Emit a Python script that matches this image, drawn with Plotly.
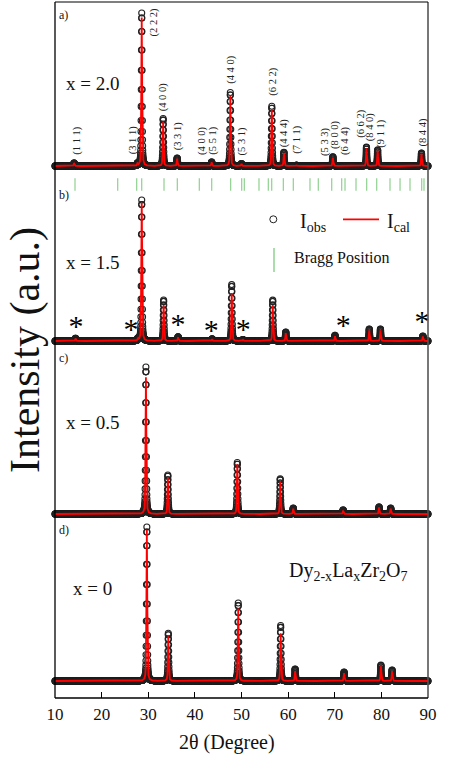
import numpy as np
import plotly.graph_objects as go

# ---------------- data ----------------
theta_start, theta_end, theta_step = 10.0, 90.0, 0.02

# panel a) x = 2.0
peaks_a_pos = [14.1, 27.7, 28.6, 33.2, 36.2, 43.6, 47.6, 50.0, 56.5, 59.1, 61.8, 69.6, 76.8, 79.2, 88.6]
peaks_a_obs = [2.0, 1.5, 100, 31, 5.2, 2.6, 48, 1.5, 39, 9.0, 0.5, 6.0, 12.4, 10.5, 8.5]
peaks_a_cal = [2.0, 1.4, 97, 29, 4.8, 2.4, 46, 1.3, 37, 8.5, 0.5, 5.5, 11.6, 10.0, 8.0]

# panel b) x = 1.5
peaks_b_pos = [14.4, 27.8, 28.6, 33.3, 36.4, 43.7, 47.9, 50.3, 56.7, 59.5, 70.05, 77.4, 79.8, 88.9]
peaks_b_obs = [2.0, 1.5, 100, 29, 3.0, 1.5, 40, 1.0, 29, 6.4, 4.0, 8.5, 8.5, 3.5]
peaks_b_cal = [1.8, 1.3, 98, 25.5, 2.7, 1.3, 34, 0.9, 25.5, 5.5, 3.5, 7.5, 7.5, 3.2]

# panel c) x = 0.5
peaks_c_pos = [29.5, 34.2, 49.1, 58.3, 61.1, 71.8, 79.5, 82.0]
peaks_c_obs = [100, 26.5, 35, 24, 4.0, 2.7, 4.8, 4.0]
peaks_c_cal = [93, 25, 34, 22, 3.6, 2.4, 4.4, 3.6]

# panel d) x = 0
peaks_d_pos = [29.7, 34.3, 49.3, 58.4, 61.5, 72.0, 79.9, 82.3]
peaks_d_obs = [100, 31, 50.6, 36, 7.8, 5.8, 10.4, 7.1]
peaks_d_cal = [98, 29, 47, 31, 6.5, 5.2, 9.5, 6.5]

# Miller index labels of panel a)
hkl_text = ["(1 1 1)", "(3 1 1)", "(2 2 2)", "(4 0 0)", "(3 3 1)", "(4 0 0)", "(5 5 1)",
            "(4 4 0)", "(5 3 1)", "(6 2 2)", "(4 4 4)", "(7 1 1)", "(5 3 3)", "(8 0 0)",
            "(6 4 4)", "(6 6 2)", "(8 4 0)", "(9 1 1)", "(8 4 4)"]
hkl_x = [14.65, 26.8, 31.3, 33.2, 36.45, 41.5, 43.8, 47.7, 50.0, 56.7, 59.2, 61.85,
         67.9, 70.05, 72.2, 75.6, 77.6, 79.85, 88.85]
hkl_y = [16.3, 17.0, 94.0, 45.0, 19.6, 16.3, 16.3, 62.7, 15.7, 54.9, 21.6, 17.0,
         15.7, 20.3, 16.3, 27.5, 25.5, 20.9, 21.6]

# Bragg positions (green ticks, panel b)
bragg_pos = [14.29, 23.45, 27.52, 28.60, 33.38, 36.23, 40.95, 43.61, 47.68, 50.04, 50.60,
             53.75, 55.75, 56.48, 58.97, 61.11, 64.69, 66.47, 69.35, 71.49, 72.20, 74.56,
             76.85, 79.00, 81.85, 84.00, 86.14, 88.65, 89.14]

# impurity asterisks (panel b)
star_pos = [14.5, 26.3, 36.4, 43.5, 50.4, 71.8, 88.7]
star_y = [12.8, 11.3, 14.2, 10.6, 11.3, 13.5, 17.0]

panel_tags = ["a)", "b)", "c)", "d)"]
comp_text = ["x = 2.0", "x = 1.5", "x = 0.5", "x = 0"]
x_ticks = [10, 20, 30, 40, 50, 60, 70, 80, 90]

# ---------------- layout geometry (pixels) ----------------
W, H = 463, 763
L, R, T, B = 55, 428, 2, 698
panel_top = [2, 170, 345, 517]
panel_bot = [170, 345, 517, 698]
panel_base = [166, 341, 514, 681]
panel_peak = [13, 200, 367, 527]    # pixel row of intensity 100
tag_y = [15, 195, 358, 530]
comp_y = [83, 262, 422, 588]

PH = B - T
serif = "Liberation Serif, Times New Roman, serif"
GREEN = "#8fd08f"


def paper_y(px):
    return (B - px) / PH


def pv(x, pos, amp, fwhm=0.2, eta=0.5):
    y = np.zeros_like(x)
    for p, a in zip(pos, amp):
        d = (x - p) / (fwhm / 2)
        y += a * (eta / (1 + d ** 2) + (1 - eta) * np.exp(-np.log(2) * d ** 2))
    return y


def xd(px):
    return 10 + (px - L) / (R - L) * 80


tt = np.arange(theta_start, theta_end + theta_step / 2, theta_step)
panels = [
    (peaks_a_pos, peaks_a_obs, peaks_a_cal),
    (peaks_b_pos, peaks_b_obs, peaks_b_cal),
    (peaks_c_pos, peaks_c_obs, peaks_c_cal),
    (peaks_d_pos, peaks_d_obs, peaks_d_cal),
]

fig = go.Figure()
layout_axes = {}
annotations = []

for i, (pos, obs, cal) in enumerate(panels):
    yname = "y" if i == 0 else f"y{i+1}"
    lname = "yaxis" if i == 0 else f"yaxis{i+1}"
    s = (panel_base[i] - panel_peak[i]) / 100.0
    rng = [-(panel_bot[i] - panel_base[i]) / s, (panel_base[i] - panel_top[i]) / s]
    layout_axes[lname] = dict(domain=[paper_y(panel_bot[i]), paper_y(panel_top[i])],
                              range=rng, showticklabels=False, ticks="", showgrid=False,
                              zeroline=False, showline=False, fixedrange=True)
    fig.add_trace(go.Scatter(x=tt, y=pv(tt, pos, obs), mode="markers", yaxis=yname,
                             marker=dict(symbol="circle-open", size=6, color="#222",
                                         line=dict(width=1.1)),
                             cliponaxis=False, showlegend=False))
    fig.add_trace(go.Scatter(x=tt, y=pv(tt, pos, cal), mode="lines", yaxis=yname,
                             line=dict(color="#ff0000", width=1.8),
                             cliponaxis=False, showlegend=False))
    annotations.append(dict(x=10.5, y=paper_y(tag_y[i]), xref="x", yref="paper",
                            text=panel_tags[i], showarrow=False, xanchor="left",
                            yanchor="middle", font=dict(family=serif, size=12, color="#111")))
    annotations.append(dict(x=xd(92), y=paper_y(comp_y[i]), xref="x",
                            yref="paper", text=comp_text[i], showarrow=False,
                            xanchor="center", yanchor="middle",
                            font=dict(family=serif, size=19, color="#111")))

# Miller labels
for t, xx, yy in zip(hkl_text, hkl_x, hkl_y):
    annotations.append(dict(x=xx, y=yy, xref="x", yref="y", text=t, showarrow=False,
                            textangle=-90, xanchor="center", yanchor="middle",
                            font=dict(family=serif, size=10.5, color="#222")))

sb = (panel_base[1] - panel_peak[1]) / 100.0


def yb(px):
    return (panel_base[1] - px) / sb


# Bragg ticks
fig.add_trace(go.Scatter(x=bragg_pos, y=[yb(184.5)] * len(bragg_pos), mode="markers",
                         yaxis="y2", cliponaxis=False, showlegend=False,
                         marker=dict(symbol="line-ns-open", size=9, color=GREEN,
                                     line=dict(color=GREEN, width=1.2))))
# asterisks (glyph sits high in its text box: shift it down a few pixels)
star_glyph_shift = 6 / sb
fig.add_trace(go.Scatter(x=star_pos, y=[v - star_glyph_shift for v in star_y], mode="text",
                         text=["*"] * len(star_pos),
                         yaxis="y2", cliponaxis=False, showlegend=False,
                         textfont=dict(family=serif, size=30, color="#000"),
                         textposition="middle center"))

# legend inside panel b
fig.add_trace(go.Scatter(x=[xd(273.3)], y=[yb(219.3)], mode="markers", yaxis="y2",
                         marker=dict(symbol="circle-open", size=7, color="#222",
                                     line=dict(width=1)), showlegend=False))
fig.add_trace(go.Scatter(x=[xd(343), xd(379)], y=[yb(219.3), yb(219.3)], mode="lines",
                         yaxis="y2", line=dict(color="#ff0000", width=1.8), showlegend=False))
fig.add_trace(go.Scatter(x=[xd(274)], y=[yb(260)], mode="markers", yaxis="y2",
                         marker=dict(symbol="line-ns-open", size=17, color=GREEN,
                                     line=dict(color=GREEN, width=1.5)), showlegend=False))
annotations.append(dict(x=xd(298), y=yb(222), xref="x", yref="y2",
                        text="I<sub>obs</sub>", showarrow=False, xanchor="left",
                        yanchor="middle", font=dict(family=serif, size=20, color="#111")))
annotations.append(dict(x=xd(385), y=yb(222), xref="x", yref="y2",
                        text="I<sub>cal</sub>", showarrow=False, xanchor="left",
                        yanchor="middle", font=dict(family=serif, size=20, color="#111")))
annotations.append(dict(x=xd(292), y=yb(258), xref="x", yref="y2",
                        text="Bragg Position", showarrow=False, xanchor="left",
                        yanchor="middle", font=dict(family=serif, size=16, color="#111")))

# compound formula in panel d
annotations.append(dict(x=xd(348), y=paper_y(571), xref="x", yref="paper",
                        text="Dy<sub>2-x</sub>La<sub>x</sub>Zr<sub>2</sub>O<sub>7</sub>",
                        showarrow=False, xanchor="center", yanchor="middle",
                        font=dict(family=serif, size=20, color="#111")))

# axis titles
annotations.append(dict(x=(226.5 - L) / (R - L), y=paper_y(742), xref="paper", yref="paper",
                        text="2θ (Degree)", showarrow=False, xanchor="center",
                        yanchor="middle", font=dict(family=serif, size=20, color="#111")))
annotations.append(dict(x=(25 - L) / (R - L), y=paper_y(350), xref="paper", yref="paper",
                        text="Intensity (a.u.)", showarrow=False, textangle=-90,
                        xanchor="center", yanchor="middle", borderpad=0,
                        font=dict(family=serif, size=42, color="#111")))

shapes = [
    dict(type="line", xref="paper", yref="paper", x0=0, x1=0, y0=0, y1=1,
         line=dict(color="#000", width=1.3)),
    dict(type="line", xref="paper", yref="paper", x0=1, x1=1, y0=0, y1=1,
         line=dict(color="#555", width=1.6)),
    dict(type="line", xref="paper", yref="paper", x0=0, x1=1, y0=1, y1=1,
         line=dict(color="#000", width=1.2)),
    dict(type="line", xref="paper", yref="paper", x0=0, x1=1, y0=0, y1=0,
         line=dict(color="#000", width=1.3)),
]

fig.update_layout(
    width=W, height=H,
    margin=dict(l=L, r=W - R, t=T, b=H - B, pad=0),
    paper_bgcolor="white", plot_bgcolor="white",
    showlegend=False,
    font=dict(family=serif, color="#111"),
    xaxis=dict(range=[10, 90], anchor="y4", tickvals=x_ticks, ticks="inside", ticklen=6,
               tickcolor="#000", tickwidth=1, showgrid=False, zeroline=False, showline=False,
               tickfont=dict(family=serif, size=17, color="#111"), ticklabelstandoff=4,
               fixedrange=True),
    annotations=annotations,
    shapes=shapes,
    **layout_axes,
)

fig.write_html("out.html", config={"displayModeBar": False},
               post_script="document.body.style.margin='0px';document.body.style.padding='0px';")
